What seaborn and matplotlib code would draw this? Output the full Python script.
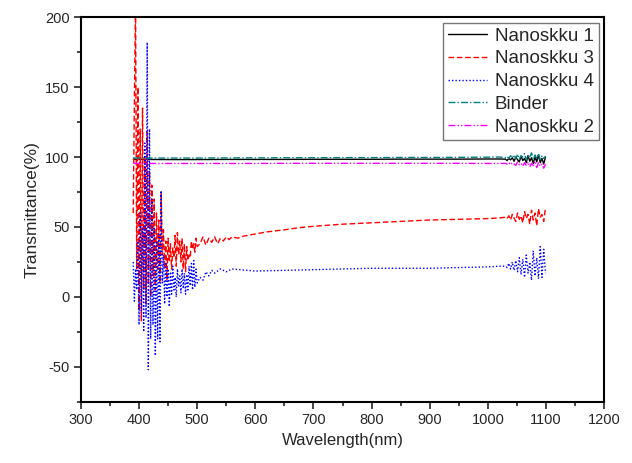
import numpy as np
import matplotlib
matplotlib.use('Agg')
import matplotlib.pyplot as plt
import seaborn as sns

# wavelengths / values
wl_tail = [1030, 1033, 1036, 1039, 1042, 1045, 1048, 1051, 1054, 1057, 1060, 1063,
           1066, 1069, 1072, 1075, 1078, 1081, 1084, 1087, 1090, 1093, 1096, 1099]
wl_flat = [390, 400, 450, 500, 550, 600, 650, 700, 750, 800, 850, 900, 950, 1000, 1020]

nano1_flat = [98.5, 98.3, 98.2, 98.2, 98.3, 98.3, 98.3, 98.4, 98.4, 98.4, 98.5, 98.5, 98.5, 98.6, 98.6]
nano1_tail = [98.5, 97.5, 99, 98, 99.5, 97, 100, 98, 96.5, 100.5, 97.5, 99,
              96, 101, 97, 99.5, 95.5, 100, 96.5, 101.5, 96, 99, 95, 100]

binder_flat = [99.3, 99.3, 99.3, 99.3, 99.4, 99.4, 99.5, 99.5, 99.6, 99.6, 99.7, 99.7, 99.8, 99.9, 100]
binder_tail = [99.5, 100.5, 99, 101, 99.5, 101.5, 99, 102, 98.5, 101, 100, 102.5,
               98, 101, 99.5, 103, 98.5, 101.5, 99, 102.5, 98, 101, 99, 100.5]

nano2_flat = [95.5, 95.4, 95.4, 95.4, 95.4, 95.4, 95.5, 95.5, 95.5, 95.5, 95.5, 95.5, 95.5, 95.4, 95.4]
nano2_tail = [95.5, 95, 96, 94.5, 96, 95, 94, 96.5, 94.5, 95.5, 93.5, 96,
              94, 96.5, 93, 95.5, 94, 97, 92.5, 96, 93.5, 95, 92, 95]

nano3_wl = [390, 392, 394, 396, 398, 400, 402, 404, 406, 408, 410, 412, 414, 416, 418, 420,
            422, 424, 426, 428, 430, 432, 434, 436, 438, 440, 442, 444, 446, 448, 450, 452,
            454, 456, 458, 460, 462, 464, 466, 468, 470, 472, 474, 476, 478, 480, 482, 484,
            486, 488, 490, 492, 494, 496, 498, 500, 505, 510, 515, 520, 525, 530, 535, 540,
            545, 550, 555, 560, 570, 580, 600, 620, 650, 675, 700, 750, 800, 850, 900, 950,
            1000, 1020]
nano3_val = [60, 140, 210, 20, 150, -10, 120, -17, 135, 5, 100, -5, 118, 10, 90, 0,
             80, 15, 70, 5, 60, 20, 55, 10, 75, 30, 48, 20, 40, 12, 42, 25,
             38, 20, 35, 28, 44, 22, 46, 30, 40, 25, 42, 20, 38, 18, 36, 26,
             30, 28, 40, 34, 38, 32, 42, 36, 38, 43, 37, 42, 39, 43, 38, 42,
             40, 43, 41, 43, 42, 43.5, 45, 46.5, 48, 49.5, 50.5, 52, 53, 54, 55, 55.5,
             56, 56.5]
nano3_tail = [57, 56, 58, 55, 59, 56.5, 54, 60, 55.5, 58, 53, 61,
              56, 59, 52, 62, 55, 60, 51, 63, 57, 59, 54, 64]

nano4_wl = [390, 392, 394, 396, 398, 400, 402, 404, 406, 408, 410, 412, 414, 416, 418, 420,
            422, 424, 426, 428, 430, 432, 434, 436, 438, 440, 442, 444, 446, 448, 450, 452,
            454, 456, 458, 460, 462, 464, 466, 468, 470, 472, 474, 476, 478, 480, 482, 484,
            486, 488, 490, 492, 494, 496, 498, 500, 505, 510, 515, 520, 525, 530, 540, 550,
            560, 600, 650, 700, 750, 800, 850, 900, 950, 1000, 1020]
nano4_val = [25, -3, 20, 5, 40, -20, 60, -10, 50, -25, 110, -15, 182, -52, 120, -30,
             70, -20, 50, -42, 40, -30, 45, -32, 76, 10, 30, -5, 25, 0, 20, -7,
             18, 2, 22, 5, 14, 0, 20, 8, 15, 3, 20, 6, 17, 2, 16, 5,
             22, 8, 24, 5, 26, 7, 20, 10, 14, 12, 18, 15, 19, 17, 20, 18,
             20, 18.5, 19, 19.5, 20, 20.5, 20.5, 20.5, 21, 21.5, 22]
nano4_tail = [22, 21, 24, 20, 25, 19, 26, 18, 28, 16, 27, 14,
              30, 17, 25, 12, 33, 15, 28, 13, 36, 14, 34, 17]

sns.set_style('ticks')
plt.rcParams['font.family'] = ['Liberation Sans', 'DejaVu Sans']
plt.rcParams['axes.unicode_minus'] = False

fig = plt.figure(figsize=(6.32, 4.63), dpi=100)
ax = fig.add_axes([0.128, 0.132, 0.828, 0.831])

series = [
    ('Nanoskku 1', wl_flat, nano1_flat, nano1_tail, 'black', '-'),
    ('Nanoskku 3', nano3_wl, nano3_val, nano3_tail, '#ff0000', (0, (4, 2))),
    ('Nanoskku 4', nano4_wl, nano4_val, nano4_tail, '#0000ff', (0, (1, 1.5))),
    ('Binder', wl_flat, binder_flat, binder_tail, '#008080', (0, (5, 1.5, 1, 1.5))),
    ('Nanoskku 2', wl_flat, nano2_flat, nano2_tail, '#ff00ff', (0, (5, 1.5, 1, 1.5, 1, 1.5))),
]

for name, wl, vals, tail, color, ls in series:
    x = list(wl) + wl_tail
    y = list(vals) + tail
    sns.lineplot(x=x, y=y, ax=ax, color=color, linestyle=ls, linewidth=1.0,
                 label=name, sort=False, estimator=None)

ax.set_xlim(300, 1200)
ax.set_ylim(-75, 200)
ax.set_xticks(np.arange(300, 1201, 100))
ax.set_xticks(np.arange(350, 1200, 100), minor=True)
ax.set_yticks(np.arange(-50, 201, 50))
ax.set_yticks(np.arange(-75, 200, 50), minor=True)
ax.tick_params(which='major', direction='out', length=5, width=1.2, labelsize=10.5, pad=3)
ax.tick_params(which='minor', direction='out', length=3, width=1.2)
for sp in ax.spines.values():
    sp.set_visible(True)
    sp.set_linewidth(1.5)
    sp.set_color('black')

ax.set_xlabel('Wavelength(nm)', fontsize=12)
ax.set_ylabel('Transmittance(%)', fontsize=12.5)

leg = ax.legend(loc='upper right', fontsize=13.5, frameon=True, fancybox=False,
                edgecolor='#555555', borderaxespad=0.3, borderpad=0.25,
                labelspacing=0.3, handlelength=2.1, handletextpad=0.4)
leg.get_frame().set_linewidth(1.0)

fig.savefig('out.png', dpi=100)
